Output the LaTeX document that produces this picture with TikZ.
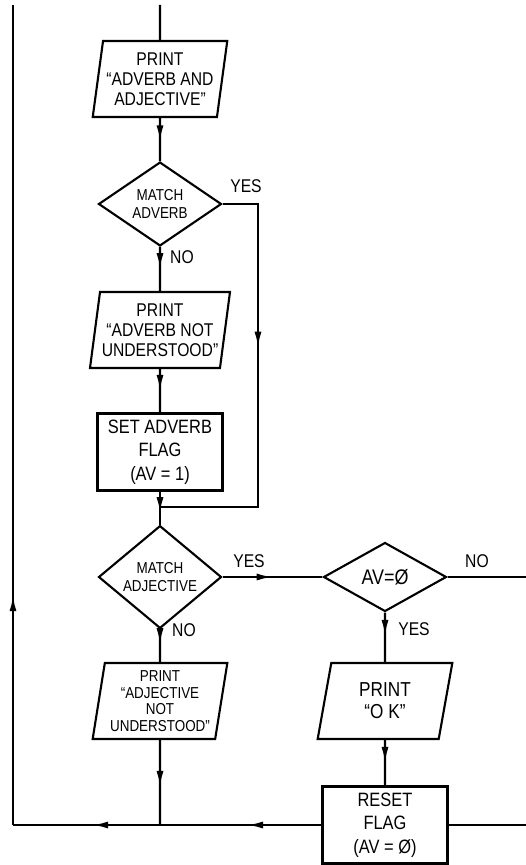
\documentclass[tikz,border=0pt]{standalone}
\usepackage{fontspec}
\setmainfont{Liberation Sans}[FakeStretch=0.85]
\usetikzlibrary{shapes.geometric,arrows.meta,decorations.markings}
\begin{document}
\begin{tikzpicture}[x=0.02cm,y=-0.02cm,line width=1.2pt,
    io/.style={draw,trapezium,trapezium left angle=80,trapezium right angle=100,
      trapezium stretches=true,minimum width=2.7cm,minimum height=1.52cm,
      inner sep=1pt,align=center,font=\fontsize{10.5}{11.5}\selectfont},
    proc/.style={draw,rectangle,minimum width=2.5cm,minimum height=1.54cm,
      inner sep=1pt,align=center,font=\fontsize{11}{13.5}\selectfont},
    test/.style={draw,diamond,minimum width=2.46cm,minimum height=1.38cm,
      inner sep=0pt,align=center,font=\fontsize{9}{10}\selectfont},
    lbl/.style={inner sep=0pt,font=\fontsize{10.5}{12}\selectfont},
    tip/.style={postaction={decorate},decoration={markings,
      mark=at position #1 with {\arrow{Latex[length=9pt,width=4pt]}}}}]
  \useasboundingbox (0,0) rectangle (526,865);
  % main column
  \coordinate (top) at (160,5);
  \node[io] (prAdvAdj) at (160,79) {PRINT\\“ADVERB AND\\ADJECTIVE”};
  \node[test] (matchAdv) at (160,204) {MATCH\\ADVERB};
  \node[io] (prAdvNot) at (160,330) {PRINT\\“ADVERB NOT\\UNDERSTOOD”};
  \node[proc] (setFlag) at (160,452) {SET ADVERB\\FLAG\\(AV = 1)};
  \coordinate (joinA) at (160,507);
  \coordinate (bypass) at (258,507);
  \node[test] (matchAdj) at (160,577) {MATCH\\ADJECTIVE};
  \node[io,font=\fontsize{9}{9.5}\selectfont] (prAdjNot) at (160,701) {PRINT\\“ADJECTIVE\\NOT\\UNDERSTOOD”};
  \coordinate (joinB) at (160,825);
  \coordinate (corner) at (13,825);
  \coordinate (back) at (13,5);
  % right column
  \node[test,font=\fontsize{12}{13}\selectfont] (avZero) at (385,577) {AV=Ø};
  \node[io,font=\fontsize{11.5}{12.5}\selectfont] (prOk) at (385,701) {PRINT\\“O K”};
  \node[proc] (resetFlag) at (385,825) {RESET\\FLAG\\(AV = Ø)};
  \coordinate (exitNo) at (526,577);
  \coordinate (exitReset) at (526,825);
  % labels
  \node[lbl] (yesAdv) at (246,186) {YES};
  \node[lbl] (noAdv) at (182,257) {NO};
  \node[lbl] (yesAdj) at (249,561) {YES};
  \node[lbl] (noAdj) at (184,630) {NO};
  \node[lbl] (noAv) at (477,561) {NO};
  \node[lbl] (yesAv) at (414,629) {YES};
  % connectors
  \draw (top) -- (prAdvAdj);
  \draw[tip=0.54] (prAdvAdj) -- (matchAdv);
  \draw[tip=0.5] (matchAdv) -- (prAdvNot);
  \draw[tip=0.41] (matchAdv.east) -| (bypass) -- (joinA);
  \draw[tip=0.5] (prAdvNot) -- (setFlag);
  \draw[tip=0.65] (setFlag) -- (matchAdj);
  \draw[tip=0.5] (matchAdj) -- (avZero);
  \draw (avZero) -- (exitNo);
  \draw[tip=0.47] (avZero) -- (prOk);
  \draw[tip=0.5] (prOk) -- (resetFlag);
  \draw (resetFlag) -- (exitReset);
  \draw[tip=0.45] (matchAdj) -- (prAdjNot);
  \draw[tip=0.55] (prAdjNot) -- (joinB);
  \draw[tip=0.46] (resetFlag) -- (joinB);
  \draw[tip=0.46] (joinB) -- (corner);
  \draw[tip=0.28] (corner) -- (back);
\end{tikzpicture}
\end{document}
